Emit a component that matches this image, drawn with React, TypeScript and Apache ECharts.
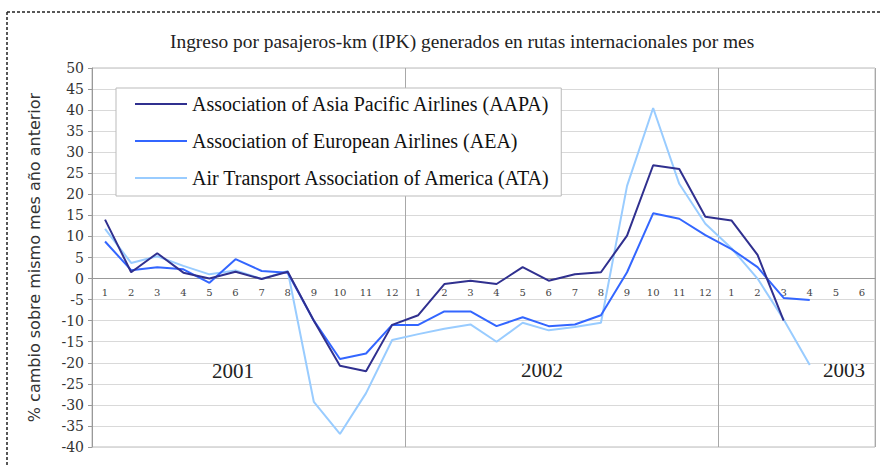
import React, { useEffect, useRef } from "react";
import * as echarts from "echarts";

const TITLE = "Ingreso por pasajeros-km (IPK) generados en rutas internacionales por mes";
const Y_NAME = "% cambio sobre mismo mes año anterior";
const YEARS = ["2001", "2002", "2003"];
const MONTHS_PER_YEAR = [12, 12, 6];
const Y_MIN = -40;
const Y_MAX = 50;
const Y_STEP = 5;
const SERIES_NAMES = [
  "Association of Asia Pacific Airlines (AAPA)",
  "Association of European Airlines (AEA)",
  "Air Transport Association of America (ATA)",
];
// 2001 (1-12), 2002 (1-12), 2003 (1-...)
const AAPA = [14, 1.5, 6, 1.4, 0, 1.6, -0.1, 1.6, -10, -20.7, -22, -11,
  -8.7, -1.3, -0.5, -1.3, 2.7, -0.5, 1.0, 1.5, 10.2, 26.9, 26.0, 14.7,
  13.8, 5.6, -10];
const AEA = [8.8, 2, 2.7, 2.2, -1, 4.6, 1.8, 1.4, -10, -19.1, -17.8, -11,
  -11, -7.8, -7.8, -11.3, -9.2, -11.3, -10.9, -8.7, 1.5, 15.5, 14.2, 10.3,
  7.0, 2.7, -4.6, -5.1];
const ATA = [11.8, 3.7, 5.3, 3, 1, 1.9, -0.1, 1.8, -29.3, -36.9, -27.2, -14.6,
  -13.2, -11.9, -10.9, -15, -10.5, -12.3, -11.5, -10.5, 22, 40.5, 22.5, 13,
  7.2, 0, -9.7, -20.5];
const COLORS = ["#30308f", "#3366ff", "#99ccff"];

const CATEGORIES: string[] = [];
YEARS.forEach((y, i) => {
  for (let m = 1; m <= MONTHS_PER_YEAR[i]; m++) CATEGORIES.push(`${y}-${m}`);
});

export default function App() {
  const ref = useRef<HTMLDivElement>(null);
  useEffect(() => {
    if (!ref.current) return;
    const chart = echarts.init(ref.current, undefined, { renderer: "svg" });
    const dataSets = [AAPA, AEA, ATA];
    const gridTop = 68;
    const gridBottom = 20;
    const plotHeight = 467 - gridTop - gridBottom;
    const zeroOffset = -((0 - Y_MIN) / (Y_MAX - Y_MIN)) * plotHeight;
    const yearText = (i: number, x: number, y: number) => ({
      type: "text",
      x,
      y,
      style: {
        text: YEARS[i],
        fontFamily: "Liberation Serif",
        fontSize: 21,
        fill: "#222",
        align: "center",
        verticalAlign: "middle",
      },
    });
    chart.setOption({
      animation: false,
      backgroundColor: "#ffffff",
      title: {
        text: TITLE,
        left: 165,
        top: 27,
        textStyle: {
          fontFamily: "Liberation Serif",
          fontSize: 19.4,
          fontWeight: "normal",
          color: "#222",
        },
      },
      legend: {
        orient: "vertical",
        left: 116,
        top: 88,
        padding: [6, 10, 8, 19],
        itemGap: 17,
        itemWidth: 52,
        itemHeight: 2,
        icon: "rect",
        backgroundColor: "#ffffff",
        borderColor: "#bbbbbb",
        borderWidth: 1,
        textStyle: {
          fontFamily: "Liberation Serif",
          fontSize: 20,
          color: "#111",
        },
        data: SERIES_NAMES,
      },
      grid: {
        left: 92,
        right: 6,
        top: gridTop,
        bottom: gridBottom,
        show: true,
        borderColor: "#bbbbbb",
        borderWidth: 1,
      },
      xAxis: [
        {
          type: "category",
          data: CATEGORIES,
          boundaryGap: true,
          position: "bottom",
          offset: zeroOffset,
          axisLine: {
            onZero: false,
            lineStyle: { color: "#999", width: 1 },
          },
          axisTick: { show: false },
          axisLabel: {
            interval: 0,
            margin: 9,
            fontFamily: "DejaVu Serif",
            fontSize: 10,
            color: "#444",
            formatter: (v: string) => v.split("-")[1],
          },
          splitLine: { show: false },
        },
        {
          type: "value",
          position: "top",
          min: 0,
          max: CATEGORIES.length,
          interval: 12,
          axisLine: { show: false, onZero: false },
          axisTick: { show: false },
          axisLabel: { show: false },
          splitLine: { show: true, lineStyle: { color: "#a8a8a8", width: 1 } },
        },
      ],
      yAxis: {
        type: "value",
        min: Y_MIN,
        max: Y_MAX,
        interval: Y_STEP,
        name: Y_NAME,
        nameLocation: "middle",
        nameRotate: 90,
        nameGap: 50,
        nameTextStyle: {
          fontFamily: "DejaVu Sans",
          fontSize: 16,
          color: "#333",
        },
        axisLine: { show: true, onZero: false, lineStyle: { color: "#999" } },
        axisTick: { show: true, length: 4, lineStyle: { color: "#999" } },
        axisLabel: {
          margin: 8,
          fontFamily: "DejaVu Serif",
          fontSize: 14,
          color: "#333",
        },
        splitLine: { lineStyle: { color: "#d9d9d9", width: 1 } },
      },
      series: SERIES_NAMES.map((name, i) => ({
        name,
        type: "line",
        xAxisIndex: 0,
        yAxisIndex: 0,
        data: dataSets[i],
        showSymbol: false,
        symbol: "none",
        color: COLORS[i],
        lineStyle: { color: COLORS[i], width: 2 },
        z: 3 - i,
      })),
      graphic: [
        {
          type: "line",
          shape: { x1: 7, y1: 12, x2: 881, y2: 12 },
          style: { stroke: "#222", lineWidth: 1.5, lineDash: [3, 2] },
        },
        {
          type: "line",
          shape: { x1: 7, y1: 12, x2: 7, y2: 467 },
          style: { stroke: "#222", lineWidth: 1.5, lineDash: [3, 2] },
        },
        yearText(0, 233, 371),
        yearText(1, 542, 370),
        yearText(2, 844, 370),
      ],
    });
    return () => chart.dispose();
  }, []);
  return (
    <div
      ref={ref}
      style={{ position: "fixed", left: 0, top: 0, width: 881, height: 467 }}
    />
  );
}
